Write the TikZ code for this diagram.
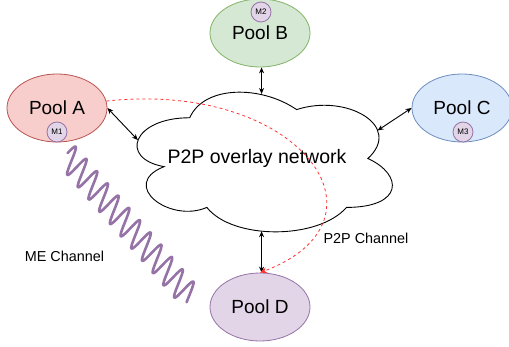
\documentclass[tikz,border=0pt]{standalone}
\usepackage{fontspec}
\setmainfont{Liberation Sans}
\usetikzlibrary{positioning,shapes.geometric,arrows.meta}

\definecolor{redfill}{HTML}{F8CECC}
\definecolor{redline}{HTML}{B85450}
\definecolor{greenfill}{HTML}{D5E8D4}
\definecolor{greenline}{HTML}{82B366}
\definecolor{bluefill}{HTML}{DAE8FC}
\definecolor{blueline}{HTML}{6C8EBF}
\definecolor{purplefill}{HTML}{E1D5E7}
\definecolor{purpleline}{HTML}{9673A6}
\definecolor{dashred}{HTML}{FF3333}

\begin{document}
\begin{tikzpicture}
        [x=1pt,y=-1pt,
        pool/.style={ellipse,draw,line width=0.8pt,minimum width=100pt,minimum height=68pt,
            inner sep=0pt,font=\fontsize{19}{22}\selectfont},
        miner/.style={circle,draw=purpleline,fill=purplefill,line width=0.8pt,minimum size=20pt,
            inner sep=0pt,font=\fontsize{8}{9}\selectfont},
        link/.style={{Stealth[length=6pt,width=5pt]}-{Stealth[length=6pt,width=5pt]},line width=0.9pt},
        label/.style={font=\fontsize{14.4}{16}\selectfont}]
        \useasboundingbox (0,0) rectangle (509,347);

        % pools
        \node[pool,draw=redline,fill=redfill] (poolA) at (57,108) {Pool A};
        \node[pool,draw=greenline,fill=greenfill] (poolB) at (260,33) {Pool B};
        \node[pool,draw=blueline,fill=bluefill] (poolC) at (462,108) {Pool C};
        \node[pool,draw=purpleline,fill=purplefill] (poolD) at (260,307) {Pool D};

        \node[miner] (m1) at (57,132) {M1};
        \node[miner] (m2) at (261,12) {M2};
        \node[miner] (m3) at (463,132) {M3};

        % overlay cloud
        \begin{scope}[shift={(118.5,77)},x=285pt,y=-163pt]
            \draw[fill=white,line width=0.9pt] (0.25,0.25) .. controls (0.05,0.25) and (0,0.5) .. (0.16,0.55)
                .. controls (0,0.66) and (0.18,0.9) .. (0.31,0.8)
                .. controls (0.4,1) and (0.7,1) .. (0.8,0.8)
                .. controls (1,0.8) and (1,0.6) .. (0.875,0.5)
                .. controls (1,0.3) and (0.8,0.1) .. (0.625,0.2)
                .. controls (0.5,0.05) and (0.3,0.05) .. (0.25,0.25) -- cycle;
            \coordinate (netW) at (0.068,0.387);
            \coordinate (netN) at (0.502,0.104);
            \coordinate (netE) at (0.909,0.328);
            \coordinate (netS) at (0.502,0.946);
        \end{scope}
        \node[font=\fontsize{19.5}{22}\selectfont] (net) at (257,158) {P2P overlay network};

        \draw[link] (poolA.east) -- (netW);
        \draw[link] (poolB.south -| netN) -- (netN);
        \draw[link] (poolC.west) -- (netE);
        \draw[link] (poolD.north -| netS) -- (netS);

        % channels
        \coordinate (waveA) at (68.8,157.7);
        \begin{scope}[shift={(waveA)}]
            \draw[purpleline,line width=2.6pt,line join=round,line cap=round]
                plot[smooth,domain=10:4170,samples=320,variable=\t]
                ({(\t-90)/360*10.7+6.9*sin(\t)},{(\t-90)/360*12.27-11*sin(\t)});
        \end{scope}
        \node[label] (me) at (64.5,256) {ME Channel};

        \draw[dashred,line width=0.8pt,dash pattern=on 3pt off 3pt,-{Stealth[length=7pt,width=6pt]}]
            (poolA.8) .. controls (300,80) and (400,220) .. (poolD.north);
        \node[label] (p2p) at (366,238) {P2P Channel};
    \end{tikzpicture}
\end{document}
